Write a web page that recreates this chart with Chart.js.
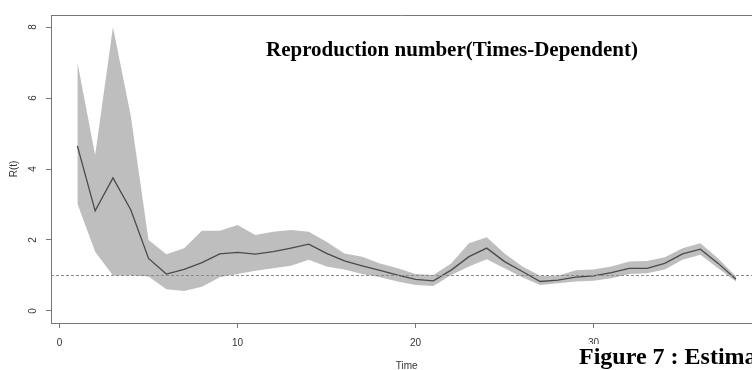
<!DOCTYPE html>
<html>
<head>
<meta charset="utf-8">
<script src="https://cdn.jsdelivr.net/npm/chart.js@4/dist/chart.umd.min.js"></script>
<style>
  html, body { margin: 0; padding: 0; background: #fff; overflow: hidden; }
  #wrap { position: relative; width: 752px; height: 370px; overflow: hidden; }
  canvas { position: absolute; left: 0; top: 0; }
  #caption {
    position: absolute; left: 579px; top: 344px; width: 200px; height: 30px;
    background: #fff; white-space: nowrap;
    font-family: "Liberation Serif", "Times New Roman", serif; font-weight: bold;
    font-size: 24px; line-height: 24px; color: #000; padding-top: 0px;
  }
</style>
</head>
<body>
<div id="wrap">
  <canvas id="c" width="752" height="370"></canvas>
  <div id="caption">Figure 7 : Estima</div>
</div>
<script>
// ---- data ----
const times = [1,2,3,4,5,6,7,8,9,10,11,12,13,14,15,16,17,18,19,20,21,22,23,24,25,26,27,28,29,30,31,32,33,34,35,36,37,38];
const rMean = [4.65,2.82,3.75,2.85,1.48,1.04,1.17,1.36,1.61,1.65,1.60,1.67,1.77,1.88,1.62,1.41,1.27,1.14,1.01,0.89,0.85,1.15,1.53,1.77,1.39,1.11,0.83,0.87,0.95,0.99,1.08,1.20,1.20,1.34,1.61,1.74,1.34,0.89];
const rUpper = [7.02,4.39,8.00,5.50,2.00,1.60,1.77,2.26,2.26,2.42,2.14,2.23,2.28,2.23,1.95,1.62,1.53,1.34,1.20,1.04,1.01,1.34,1.91,2.08,1.62,1.25,0.99,0.99,1.15,1.17,1.25,1.39,1.41,1.51,1.77,1.91,1.48,0.97];
const rLower = [3.03,1.67,1.00,1.00,0.97,0.61,0.56,0.68,0.95,1.04,1.13,1.20,1.27,1.44,1.25,1.17,1.04,0.95,0.83,0.73,0.70,1.01,1.25,1.46,1.20,0.95,0.73,0.78,0.83,0.85,0.92,1.04,1.06,1.17,1.44,1.58,1.20,0.83];
const xTicks = [0, 10, 20, 30];
const yTicks = [0, 2, 4, 6, 8];
const refLine = 1;
const chartTitle = "Reproduction number(Times-Dependent)";
const xTitle = "Time";
const yTitle = "R(t)";

const toXY = arr => times.map((t, i) => ({ x: t, y: arr[i] }));
const SANS = '"Liberation Sans", Arial, Helvetica, sans-serif';
const AXIS = '#777';

const decor = {
  id: 'decor',
  afterDatasetsDraw(chart) {
    const { ctx, chartArea: a, scales: { x, y } } = chart;
    ctx.save();
    // dashed reference line
    ctx.strokeStyle = '#8a8a8a';
    ctx.lineWidth = 1;
    ctx.setLineDash([3, 2]);
    const yr = Math.round(y.getPixelForValue(refLine)) + 0.5;
    ctx.beginPath(); ctx.moveTo(a.left, yr); ctx.lineTo(a.right, yr); ctx.stroke();
    ctx.setLineDash([]);
    // top border of box
    ctx.strokeStyle = AXIS;
    ctx.beginPath(); ctx.moveTo(a.left, a.top + 0.5); ctx.lineTo(a.right, a.top + 0.5); ctx.stroke();
    // rotated y tick labels
    ctx.fillStyle = '#333';
    ctx.font = '10px ' + SANS;
    ctx.textAlign = 'center';
    ctx.textBaseline = 'middle';
    yTicks.forEach(v => {
      ctx.save();
      ctx.translate(33, y.getPixelForValue(v));
      ctx.rotate(-Math.PI / 2);
      ctx.fillText(String(v), 0, 0);
      ctx.restore();
    });
    // y title
    ctx.save();
    ctx.translate(14, (a.top + a.bottom) / 2);
    ctx.rotate(-Math.PI / 2);
    ctx.fillText(yTitle, 0, 0);
    ctx.restore();
    // x title
    ctx.fillText(xTitle, x.getPixelForValue((x.min + 39.48) / 2), 366);
    // chart title
    ctx.fillStyle = '#000';
    ctx.font = 'bold 21px "Liberation Serif", "Times New Roman", serif';
    ctx.fillText(chartTitle, 452, 51);
    ctx.restore();
  }
};

new Chart(document.getElementById('c'), {
  type: 'line',
  data: {
    datasets: [
      { label: 'upper', data: toXY(rUpper), borderWidth: 0, pointRadius: 0,
        fill: '+1', backgroundColor: '#bebebe', borderColor: 'rgba(0,0,0,0)', order: 2, tension: 0 },
      { label: 'lower', data: toXY(rLower), borderWidth: 0, pointRadius: 0,
        fill: false, borderColor: 'rgba(0,0,0,0)', order: 3, tension: 0 },
      { label: 'mean', data: toXY(rMean), borderWidth: 1.3, pointRadius: 0,
        fill: false, borderColor: '#4a4a4a', order: 0, tension: 0 }
    ]
  },
  options: {
    responsive: false,
    devicePixelRatio: 1,
    animation: false,
    events: [],
    layout: { padding: { top: 15, left: 0, right: 0, bottom: 0 } },
    plugins: { legend: { display: false }, tooltip: { enabled: false }, title: { display: false } },
    scales: {
      x: {
        type: 'linear', min: -0.48, max: 38.9,
        afterBuildTicks: s => { s.ticks = xTicks.map(v => ({ value: v })); },
        afterFit: s => { s.height = 47; },
        grid: { drawOnChartArea: false, drawTicks: true, tickLength: 5, color: AXIS, lineWidth: 1 },
        border: { display: true, color: AXIS, width: 1 },
        ticks: { color: '#333', font: { size: 10, family: SANS }, padding: 9, maxRotation: 0, autoSkip: false }
      },
      y: {
        type: 'linear', min: -0.34, max: 8.34,
        afterBuildTicks: s => { s.ticks = yTicks.map(v => ({ value: v })); },
        afterFit: s => { s.width = 51; },
        grid: { drawOnChartArea: false, drawTicks: true, tickLength: 5, color: AXIS, lineWidth: 1 },
        border: { display: true, color: AXIS, width: 1 },
        ticks: { display: false }
      }
    }
  },
  plugins: [decor]
});
</script>
</body>
</html>
